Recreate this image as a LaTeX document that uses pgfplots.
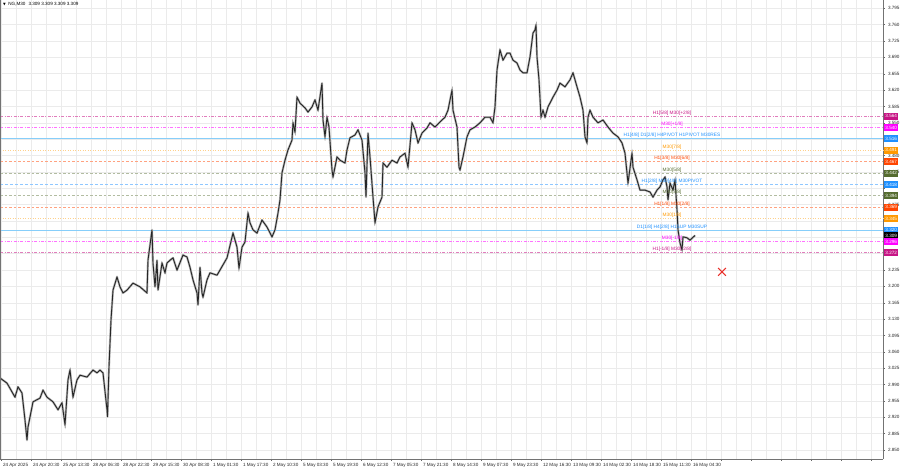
\documentclass[border=0pt]{standalone}
\usepackage{pgfplots}
\usepackage{pgfplotstable}
\pgfplotsset{compat=1.18}
\usepackage{fontspec}
\setmainfont{Liberation Sans}
\newfontfamily\symfont{DejaVu Sans}
\definecolor{mvr}{HTML}{C71585}
\definecolor{mag}{HTML}{FF00FF}
\definecolor{dblue}{HTML}{1E90FF}
\definecolor{lblue}{HTML}{87CEFA}
\definecolor{orng}{HTML}{FF9900}
\definecolor{ored}{HTML}{FF4500}
\definecolor{olive}{HTML}{556B2F}
\definecolor{gridc}{HTML}{EBEBEB}
\definecolor{xred}{HTML}{E8302A}

\pgfplotstableread{
x y
0 3.004
7 2.993
15 2.963
18 2.985
22 2.972
25 2.914
27 2.871
28 2.899
32 2.942
33 2.953
40 2.961
43 2.978
47 2.963
53 2.953
58 2.936
62 2.951
65 2.904
68 3.000
70 3.021
73 2.963
77 3.000
80 3.010
87 3.006
93 3.021
97 3.015
100 3.021
103 3.015
107 2.936
107.5 2.921
109 3.028
111 3.128
113 3.192
117 3.220
120 3.199
123 3.186
127 3.192
133 3.207
140 3.199
147 3.186
148 3.256
152 3.321
153 3.250
155 3.199
157 3.256
158 3.192
162 3.250
165 3.229
167 3.250
170 3.256
173 3.261
177 3.235
183 3.267
187 3.263
190 3.241
193 3.214
197 3.186
198 3.160
200 3.241
202 3.186
203 3.177
207 3.214
210 3.229
217 3.224
220 3.235
227 3.261
233 3.314
237 3.284
239 3.239
242 3.284
245 3.295
248 3.357
250 3.336
253 3.321
257 3.314
262 3.342
267 3.327
272 3.306
275 3.321
278 3.357
280 3.385
282 3.443
285 3.470
288 3.492
292 3.513
293 3.550
295 3.530
297 3.605
300 3.592
305 3.582
308 3.573
312 3.584
315 3.599
318 3.577
322 3.635
323 3.556
325 3.520
327 3.562
329 3.541
332 3.449
333 3.434
337 3.477
340 3.470
345 3.464
347 3.492
350 3.518
355 3.524
358 3.535
362 3.513
365 3.443
366 3.391
368 3.528
370 3.477
373 3.391
375 3.336
378 3.370
382 3.391
383 3.464
387 3.455
392 3.470
397 3.464
400 3.477
405 3.485
408 3.455
412 3.550
415 3.535
418 3.507
422 3.528
427 3.539
430 3.550
435 3.541
440 3.552
445 3.562
448 3.577
452 3.620
453 3.577
457 3.541
459 3.455
460 3.449
463 3.477
467 3.520
470 3.535
475 3.541
480 3.550
485 3.562
490 3.562
493 3.550
495 3.584
497 3.663
500 3.706
503 3.684
507 3.699
510 3.699
513 3.684
517 3.678
520 3.663
523 3.657
527 3.657
530 3.691
533 3.742
535 3.749
536 3.759
537 3.691
539 3.642
541 3.562
543 3.577
545 3.562
548 3.584
553 3.605
557 3.620
560 3.635
565 3.627
570 3.642
573 3.657
577 3.627
580 3.605
583 3.577
585 3.520
587 3.507
588 3.562
590 3.577
593 3.562
598 3.550
603 3.556
608 3.541
613 3.528
618 3.520
622 3.507
625 3.485
628 3.421
632 3.485
633 3.455
637 3.428
640 3.406
645 3.406
650 3.402
653 3.391
657 3.406
660 3.413
663 3.428
665 3.434
667 3.413
668 3.385
670 3.421
673 3.406
675 3.428
677 3.364
678 3.321
680 3.293
682 3.278
683 3.306
687 3.304
690 3.299
695 3.309
}\price

\newcommand{\tf}{\fontsize{4.6}{5.5}\selectfont}
\tikzset{tag/.style={anchor=west, inner sep=0pt, minimum width=14pt, minimum height=6.6pt, text=white, font=\fontsize{4.6}{5}\selectfont, xshift=1pt}}
\tikzset{lvl/.style={font=\fontsize{4.8}{5.5}\selectfont, anchor=south, inner sep=0.8pt}}

\begin{document}
\begin{tikzpicture}
\begin{axis}[name=ax, scale only axis, width=883pt, height=459pt,
  xmin=0, xmax=883, ymin=2.8307, ymax=3.8128,
  axis x line*=bottom, axis y line*=right,
  axis line style={-, draw=black!55, line width=0.6pt},
  tick align=outside, major tick length=2pt, minor tick length=0pt, tick style={black!60, line width=0.4pt},
  grid=both, grid style={gridc, line width=0.5pt}, minor grid style={gridc, line width=0.5pt},
  minor x tick num=1,
  ytick={2.850,2.885,2.920,2.955,2.990,3.025,3.060,3.095,3.130,3.165,3.200,3.235,3.270,3.305,3.340,3.375,3.410,3.445,3.480,3.515,3.550,3.585,3.620,3.655,3.690,3.725,3.760,3.795},
  yticklabels={2.850,2.885,2.920,2.955,2.990,3.025,3.060,3.095,3.130,3.165,3.200,3.235,,,,3.375,,3.445,3.480,,3.550,3.585,3.620,3.655,3.690,3.725,3.760,3.795},
  yticklabel style={font=\tf, text=black!85, xshift=-0.5pt},
  xtick={1,31,61,91,121,151,181,211,241,271,301,331,361,391,421,451,481,511,541,571,601,631,661,691,721,751,781,811,841,871},
  xticklabels={24 Apr 2025,24 Apr 20:30,25 Apr 13:30,28 Apr 06:30,28 Apr 22:30,29 Apr 15:30,30 Apr 08:30,1 May 01:30,1 May 17:30,2 May 10:30,5 May 03:30,5 May 19:30,6 May 12:30,7 May 05:30,7 May 21:30,8 May 14:30,9 May 07:30,9 May 23:30,12 May 16:30,13 May 09:30,14 May 02:30,14 May 18:30,15 May 11:30,16 May 04:30,,,,,,},
  xticklabel style={font=\tf, text=black!85, anchor=north west, xshift=-1.5pt, yshift=1pt},
  clip=false]
% levels
\addplot[mvr!55, line width=0.5pt, dash pattern=on 3pt off 1.5pt on 0.8pt off 1.5pt] coordinates {(0,3.564) (883,3.564)};
\addplot[mag!55, line width=0.5pt, dash pattern=on 3pt off 1.5pt on 0.8pt off 1.5pt] coordinates {(0,3.540) (883,3.540)};
\addplot[lblue, line width=0.7pt] coordinates {(0,3.516) (883,3.516)};
\addplot[orng!45, line width=0.5pt, dash pattern=on 1pt off 1.5pt] coordinates {(0,3.491) (883,3.491)};
\addplot[ored!50, line width=0.5pt, dash pattern=on 2.5pt off 2pt] coordinates {(0,3.467) (883,3.467)};
\addplot[olive!45, line width=0.5pt, dash pattern=on 2.5pt off 2pt] coordinates {(0,3.442) (883,3.442)};
\addplot[dblue!50, line width=0.6pt, dash pattern=on 3pt off 2pt] coordinates {(0,3.418) (883,3.418)};
\addplot[olive!45, line width=0.5pt, dash pattern=on 2.5pt off 2pt] coordinates {(0,3.394) (883,3.394)};
\addplot[ored!50, line width=0.5pt, dash pattern=on 2.5pt off 2pt] coordinates {(0,3.369) (883,3.369)};
\addplot[orng!45, line width=0.5pt, dash pattern=on 1pt off 1.5pt] coordinates {(0,3.345) (883,3.345)};
\addplot[lblue, line width=0.7pt] coordinates {(0,3.320) (883,3.320)};
\addplot[mag!55, line width=0.5pt, dash pattern=on 3pt off 1.5pt on 0.8pt off 1.5pt] coordinates {(0,3.296) (883,3.296)};
\addplot[mvr!55, line width=0.5pt, dash pattern=on 3pt off 1.5pt on 0.8pt off 1.5pt] coordinates {(0,3.272) (883,3.272)};
% price
\addplot[black!28, line width=2.2pt, line join=round] table[x=x,y=y] {\price};
\addplot[black!85, line width=0.9pt, line join=miter] table[x=x,y=y] {\price};
% sell mark
\addplot[only marks, mark=x, mark size=5.5pt, xred, line width=1.1pt] coordinates {(722,3.231)};
% level labels
\node[lvl, text=mvr] at (axis cs:672,3.564) {H1[5/8] M30[+2/8]};
\node[lvl, text=mag] at (axis cs:672,3.540) {M30[+1/8]};
\node[lvl, text=dblue] at (axis cs:672,3.516) {H1[4/8] D1[2/8] H4PIVOT H1PIVOT M30RES};
\node[lvl, text=orng] at (axis cs:672,3.491) {M30[7/8]};
\node[lvl, text=ored] at (axis cs:672,3.467) {H1[3/8] M30[6/8]};
\node[lvl, text=olive] at (axis cs:672,3.442) {M30[5/8]};
\node[lvl, text=dblue] at (axis cs:672,3.418) {H1[2/8] M30[4/8] M30PIVOT};
\node[lvl, text=olive] at (axis cs:672,3.394) {M30[3/8]};
\node[lvl, text=ored] at (axis cs:672,3.369) {H1[1/8] M30[2/8]};
\node[lvl, text=orng] at (axis cs:672,3.345) {M30[1/8]};
\node[lvl, text=dblue] at (axis cs:672,3.320) {D1[1/8] H4[2/8] H1SUP M30SUP};
\node[lvl, text=mag] at (axis cs:672,3.296) {M30[-1/8]};
\node[lvl, text=mvr] at (axis cs:672,3.272) {H1[-1/8] M30[-2/8]};
% left border
\draw[black!55, line width=0.6pt] (rel axis cs:0,0) -- (rel axis cs:0,1);
% title
\node[anchor=north west, font=\tf, inner sep=0pt] at (rel axis cs:0,1) [xshift=3pt, yshift=-2.5pt] {{\symfont\fontsize{3.5}{4}\selectfont ▼}\hspace{2.5pt}NG,M30\hspace{3pt}3.309 3.309 3.309 3.309};
% tag anchors
\coordinate (t1) at (axis cs:883,3.564);
\coordinate (t2) at (axis cs:883,3.540);
\coordinate (t3) at (axis cs:883,3.516);
\coordinate (t4) at (axis cs:883,3.491);
\coordinate (t5) at (axis cs:883,3.467);
\coordinate (t6) at (axis cs:883,3.442);
\coordinate (t7) at (axis cs:883,3.418);
\coordinate (t8) at (axis cs:883,3.394);
\coordinate (t9) at (axis cs:883,3.369);
\coordinate (t10) at (axis cs:883,3.345);
\coordinate (t11) at (axis cs:883,3.320);
\coordinate (t12) at (axis cs:883,3.296);
\coordinate (t13) at (axis cs:883,3.272);
\coordinate (tc) at (axis cs:883,3.309);
\end{axis}
\node[tag, fill=mvr] at (t1) {3.564};
\node[tag, fill=mag] at (t2) {3.540};
\node[tag, fill=dblue] at (t3) {3.516};
\node[tag, fill=orng] at (t4) {3.491};
\node[tag, fill=ored] at (t5) {3.467};
\node[tag, fill=olive] at (t6) {3.442};
\node[tag, fill=dblue] at (t7) {3.418};
\node[tag, fill=olive] at (t8) {3.394};
\node[tag, fill=ored] at (t9) {3.369};
\node[tag, fill=orng] at (t10) {3.345};
\node[tag, fill=dblue] at (t11) {3.320};
\node[tag, fill=black] at (tc) {3.309};
\node[tag, fill=mag] at (t12) {3.296};
\node[tag, fill=mvr] at (t13) {3.272};
\pgfresetboundingbox
\path[use as bounding box] ([yshift=-9pt]ax.south west) rectangle ([xshift=17pt]ax.north east);
\end{tikzpicture}
\end{document}
